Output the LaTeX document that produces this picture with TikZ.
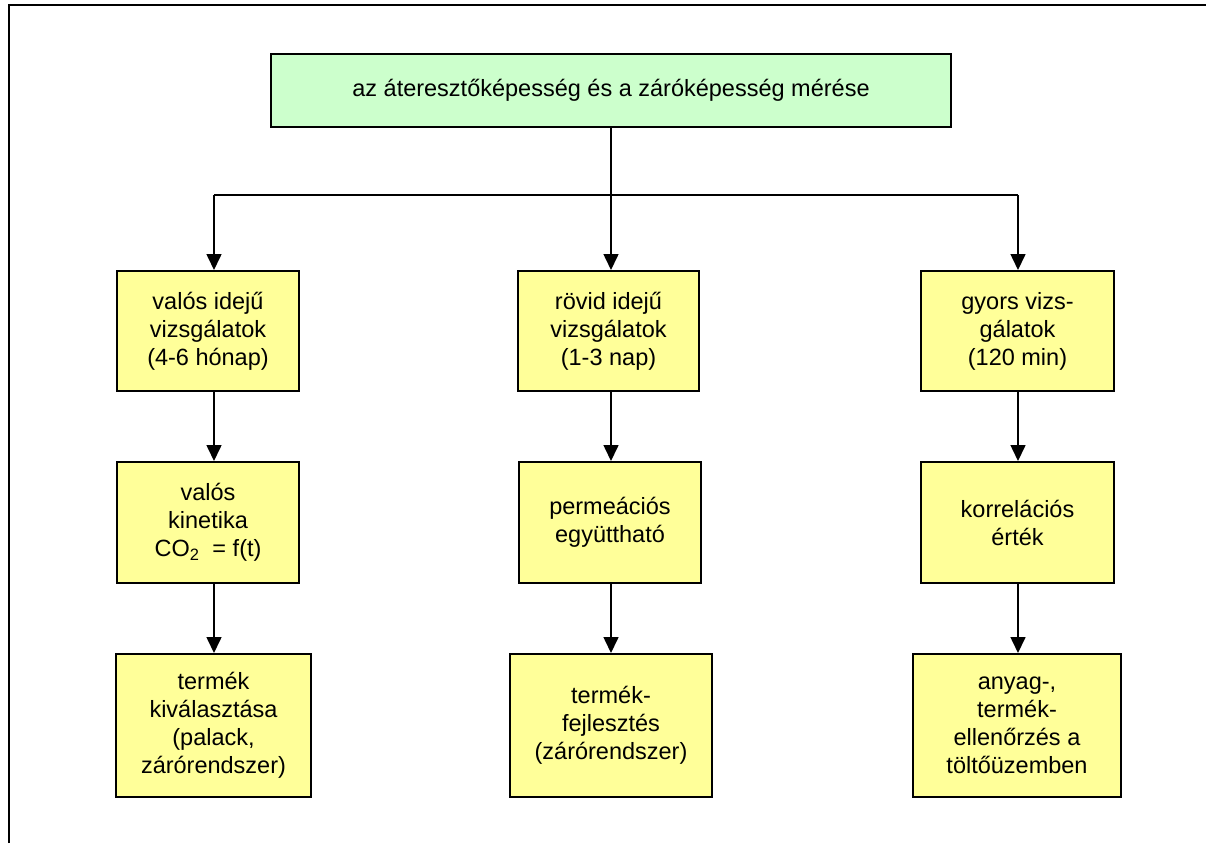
\documentclass[tikz,border=0pt]{standalone}
\usepackage{fontspec}
\setmainfont{Liberation Sans}
\usetikzlibrary{arrows.meta}
\definecolor{boxgreen}{HTML}{CCFFCC}
\definecolor{boxyellow}{HTML}{FFFF99}
\tikzset{
  greenbox/.style={draw=black, line width=2pt, fill=boxgreen, rectangle, inner sep=0pt,
    align=center, font=\fontsize{23.5}{28}\selectfont},
  yellowbox/.style={draw=black, line width=2pt, fill=boxyellow, rectangle, inner sep=0pt,
    align=center, font=\fontsize{23.5}{28}\selectfont},
  conn/.style={draw=black, line width=1.6pt},
  arr/.style={conn, -{Triangle[length=16pt,width=15pt]}},
}
\begin{document}
\begin{tikzpicture}[x=1pt,y=-1pt]
\useasboundingbox (0,0) rectangle (1206,843);
% frame (only top and left edges visible)
\draw[line width=2.2pt] (9,843) -- (9,5) -- (1206,5);

% top
\node[greenbox, minimum width=680pt, minimum height=73pt] (top) at (611,90.5)
  {az áteresztőképesség és a záróképesség mérése};

% column axes
\coordinate (cL) at (214,195);
\coordinate (cM) at (611,195);
\coordinate (cR) at (1018,195);

% left column
\node[yellowbox, minimum width=182pt, minimum height=120pt] (L1) at (208,331)
  {valós idejű\\vizsgálatok\\(4-6 hónap)};
\node[yellowbox, minimum width=182pt, minimum height=121pt] (L2) at (208,522.5)
  {valós\\kinetika\\CO\textsubscript{2}\ \ = f(t)};
\node[yellowbox, minimum width=195pt, minimum height=143pt] (L3) at (213.5,725.5)
  {termék\\kiválasztása\\(palack,\\zárórendszer)};

% middle column
\node[yellowbox, minimum width=181pt, minimum height=120pt] (M1) at (608.5,331)
  {rövid idejű\\vizsgálatok\\(1-3 nap)};
\node[yellowbox, minimum width=182pt, minimum height=121pt] (M2) at (610,522.5)
  {permeációs\\együttható};
\node[yellowbox, minimum width=202pt, minimum height=143pt] (M3) at (611,725.5)
  {termék-\\fejlesztés\\(zárórendszer)};

% right column
\node[yellowbox, minimum width=193pt, minimum height=120pt] (R1) at (1017.5,331)
  {gyors vizs-\\gálatok\\(120 min)};
\node[yellowbox, minimum width=193pt, minimum height=121pt] (R2) at (1017.5,522.5)
  {korrelációs\\érték};
\node[yellowbox, minimum width=208pt, minimum height=143pt] (R3) at (1017,725.5)
  {anyag-,\\termék-\\ellenőrzés a\\töltőüzemben};

% connectors
\draw[conn] (top.south -| cM) -- (cM);
\draw[conn] (cL) -- (cR);
\draw[arr] (cL) -- (L1.north -| cL);
\draw[arr] (cM) -- (M1.north -| cM);
\draw[arr] (cR) -- (R1.north -| cR);

\draw[arr] (L1.south -| cL) -- (L2.north -| cL);
\draw[arr] (L2.south -| cL) -- (L3.north -| cL);
\draw[arr] (M1.south -| cM) -- (M2.north -| cM);
\draw[arr] (M2.south -| cM) -- (M3.north -| cM);
\draw[arr] (R1.south -| cR) -- (R2.north -| cR);
\draw[arr] (R2.south -| cR) -- (R3.north -| cR);
\end{tikzpicture}
\end{document}
